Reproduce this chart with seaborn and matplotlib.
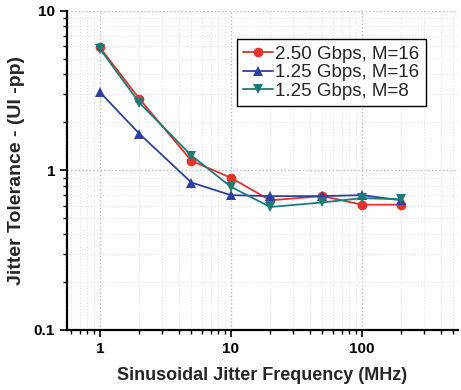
import pandas as pd
import numpy as np
import matplotlib.pyplot as plt
import seaborn as sns
from matplotlib.ticker import LogLocator, NullFormatter, FixedLocator

freq = [1, 2, 5, 10, 20, 50, 100, 200]
jt_250_m16 = [5.9, 2.82, 1.15, 0.90, 0.65, 0.69, 0.61, 0.61]
jt_125_m16 = [3.1, 1.70, 0.84, 0.70, 0.69, 0.69, 0.70, 0.65]
jt_125_m8 = [5.8, 2.66, 1.24, 0.79, 0.59, 0.63, 0.67, 0.66]
labels = ['2.50 Gbps, M=16', '1.25 Gbps, M=16', '1.25 Gbps, M=8']

sns.set_style('white')
plt.rcParams['font.family'] = ['Liberation Sans', 'DejaVu Sans']

# long form
df = pd.DataFrame({
    'freq': freq * 3,
    'jt': jt_250_m16 + jt_125_m16 + jt_125_m8,
    'series': [labels[0]] * 8 + [labels[1]] * 8 + [labels[2]] * 8,
})

fig = plt.figure(figsize=(4.61, 3.9), dpi=100)
ax = fig.add_axes([0.145, 0.154, 0.848, 0.818])

palette = {labels[0]: '#e4322b', labels[1]: '#2f3f9e', labels[2]: '#1c7b76'}
markers = {labels[0]: 'o', labels[1]: '^', labels[2]: 'v'}
sns.lineplot(data=df, x='freq', y='jt', hue='series', style='series',
             palette=palette, markers=markers, dashes=False, markersize=7,
             linewidth=1.3, markeredgewidth=0, ax=ax)

ax.set_xscale('log')
ax.set_yscale('log')
ax.set_xlim(0.56, 540)
ax.set_ylim(0.1, 10)

ax.xaxis.set_major_locator(FixedLocator([1, 10, 100]))
ax.set_xticklabels(['1', '10', '100'])
ax.yaxis.set_major_locator(FixedLocator([0.1, 1, 10]))
ax.set_yticklabels(['0.1', '1', '10'])
ax.xaxis.set_minor_locator(LogLocator(base=10, subs=np.arange(2, 10), numticks=20))
ax.yaxis.set_minor_locator(LogLocator(base=10, subs=np.arange(2, 10), numticks=20))
ax.xaxis.set_minor_formatter(NullFormatter())
ax.yaxis.set_minor_formatter(NullFormatter())

ax.grid(True, which='major', color='#bbbbbb', linestyle=':', linewidth=1.0)
ax.grid(True, which='minor', color='#e2e2e2', linestyle=':', linewidth=0.8)

for s in ['top', 'right']:
    ax.spines[s].set_visible(False)
for s in ['left', 'bottom']:
    ax.spines[s].set_color('black')
    ax.spines[s].set_linewidth(1.6)

ax.tick_params(which='major', direction='out', length=5, width=1.2, colors='black',
               labelsize=11, bottom=True, left=True)
ax.tick_params(which='minor', direction='out', length=3, width=1.0, colors='black',
               bottom=True, left=True)
for t in ax.get_xticklabels() + ax.get_yticklabels():
    t.set_fontweight('bold')

ax.set_xlabel('Sinusoidal Jitter Frequency (MHz)', fontsize=13, fontweight='bold', labelpad=8)
ax.set_ylabel('Jitter Tolerance - (UI -pp)', fontsize=14, fontweight='bold', labelpad=6)

leg = ax.legend(loc='upper left', bbox_to_anchor=(0.435, 0.912), fontsize=13.5,
                frameon=True, fancybox=False, edgecolor='black', framealpha=1,
                handlelength=1.6, handletextpad=0.1, borderpad=0.35, labelspacing=0.08,
                borderaxespad=0)
leg.get_frame().set_linewidth(1.0)

fig.savefig('out.png', dpi=100)
